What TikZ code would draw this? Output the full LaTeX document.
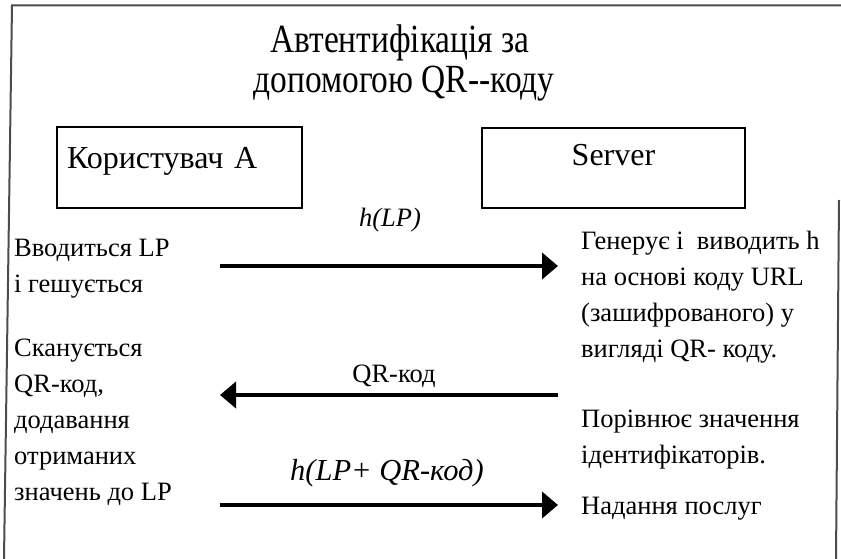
\documentclass[tikz,border=0pt]{standalone}
\usepackage{fontspec}
\setmainfont{Liberation Serif}
\usetikzlibrary{arrows.meta}
\newcommand{\bodyfont}{\fontsize{26.5}{36}\selectfont}
\newcommand{\boxfont}{\fontsize{32}{36}\selectfont}
\newcommand{\headfont}{\fontsize{40}{40}\selectfont}
\tikzset{
  frameline/.style={draw=black!70, line width=2pt},
  party/.style={draw, line width=2pt, inner xsep=10, inner ysep=0,
    text height=22, font=\boxfont},
  msg/.style={line width=4pt, -{Triangle[length=16pt,width=26pt]}},
  txt/.style={inner sep=0, anchor=base west, align=left, font=\bodyfont},
  lbl/.style={inner sep=0, anchor=base, font=\bodyfont},
  headline/.style={inner sep=0, anchor=base, font=\headfont},
}
\begin{document}
\begin{tikzpicture}[x=1pt, y=-1pt]
\useasboundingbox (0,0) rectangle (841,559);
% outer frame (open at the bottom)
\draw[frameline] (4,559) -- (12,5.5) -- (841,5.5);
\draw[frameline] (839,200) -- (836,559);

% heading
\node[headline] (head1) at (400,53) {\scalebox{0.835}[1]{Автентифікація за}};
\node[headline] (head2) at (404,93) {\scalebox{0.835}[1]{допомогою QR-\kern0pt-коду}};

% the two parties
\node[party, text width=225, align=left, minimum height=81, text depth=21]
  (user) at (179.5,167.5) {Користувач А};
\node[party, text width=243, align=center, minimum height=80, text depth=28]
  (server) at (613.5,168) {Server};

% message end points
\coordinate (m1a) at (220,266);
\coordinate (m1b) at (558,266);
\coordinate (m2a) at (558,395);
\coordinate (m2b) at (220,395);
\coordinate (m3a) at (220,505);
\coordinate (m3b) at (558,505);

\draw[msg] (m1a) -- (m1b);
\draw[msg] (m2a) -- (m2b);
\draw[msg] (m3a) -- (m3b);

\node[lbl] (l1) at (390,226) {\itshape h(LP)};
\node[lbl] (l2) at (394,382) {QR-код};
\node[lbl, font=\fontsize{30.5}{36}\selectfont] (l3) at (387,480) {\itshape h(LP+ QR-код)};

% client side (base = baseline of the last line)
\node[txt] (c1) at (14,292) {Вводиться LP\\і гешується};
\node[txt] (c2) at (14,500) {Сканується\\QR-код,\\додавання\\отриманих\\значень до LP};

% server side
\node[txt] (s1) at (581,357) {Генерує і~ виводить h\\на основі коду URL\\(зашифрованого) у\\вигляді QR- коду.};
\node[txt] (s2) at (581,463) {Порівнює значення\\ідентифікаторів.};
\node[txt] (s3) at (581,514) {Надання послуг};
\end{tikzpicture}
\end{document}
